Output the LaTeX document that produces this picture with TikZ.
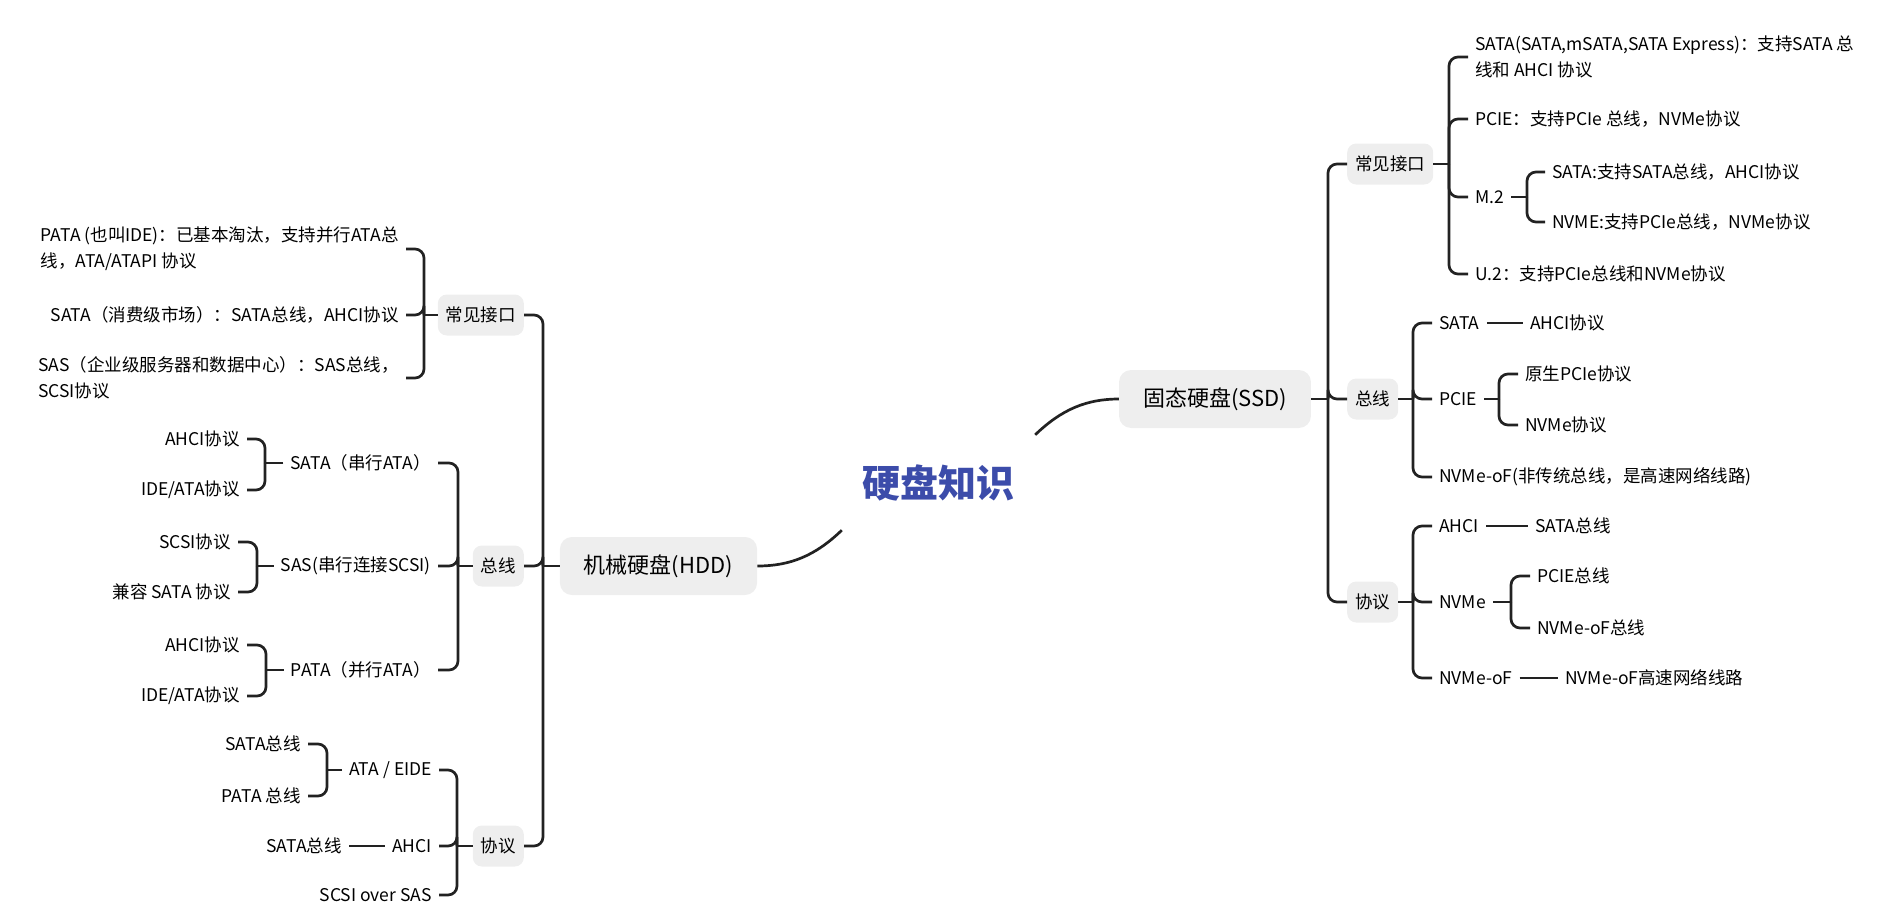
\documentclass[tikz,border=0pt]{standalone}
\usepackage{fontspec}
\setmainfont{Noto Sans CJK SC}
\definecolor{boxgray}{HTML}{EEEEEE}
\definecolor{linedark}{HTML}{222222}
\definecolor{titleblue}{RGB}{60,76,170}

\begin{document}
\begin{tikzpicture}[x=1pt,y=-1pt,
  link/.style={draw=linedark,line width=2.7pt,rounded corners=9pt},
  topic/.style={fill=boxgray,rounded corners=12pt,inner xsep=24pt,minimum height=58pt,font=\fontsize{22}{26}\selectfont},
  sub/.style={fill=boxgray,rounded corners=9pt,inner xsep=8pt,minimum height=41pt,font=\fontsize{17.5}{21}\selectfont},
  leaf/.style={inner xsep=7pt,inner ysep=2pt,align=left,font=\fontsize{17.5}{26}\selectfont}]
  \useasboundingbox (0,0) rectangle (1887,921);

  \node[text=titleblue,minimum width=193pt,minimum height=95pt,font=\fontsize{38}{44}\selectfont\bfseries] (root) at (938.5,482.5) {硬盘知识};
  \node[topic] (hdd) at (658.5,566) {机械硬盘(HDD)};
  \node[topic] (ssd) at (1215,399) {固态硬盘(SSD)};
  \draw[link] (root.south west) .. controls (815,556) and (790,566) .. (hdd.east);
  \draw[link] (root.north east) .. controls (1062,409) and (1087,399) .. (ssd.west);

  \coordinate (jhdd) at (543,566);
  \node[sub,anchor=east] (hif) at (524,315) {常见接口};
  \node[sub,anchor=east] (hbus) at (524,566) {总线};
  \node[sub,anchor=east] (hpro) at (524,846) {协议};
  \draw[link] (hdd.west) -- (jhdd);
  \foreach \n in {hif,hbus,hpro} \draw[link] (jhdd) |- (\n.east);

  \coordinate (jhif) at (424,315);
  \node[leaf,anchor=east] (hifpata) at (406,249) {PATA (也叫IDE)：已基本淘汰，支持并行ATA总\\线，ATA/ATAPI 协议};
  \node[leaf,anchor=east] (hifsata) at (406,315) {SATA（消费级市场）：SATA总线，AHCI协议};
  \node[leaf,anchor=east] (hifsas) at (406,378) {SAS（企业级服务器和数据中心）：SAS总线，\\SCSI协议};
  \draw[link] (hif.west) -- (jhif);
  \foreach \n in {hifpata,hifsata,hifsas} \draw[link] (jhif) |- (\n.east);

  \coordinate (jhbus) at (458,566);
  \node[leaf,anchor=east] (hbsata) at (438,463) {SATA（串行ATA）};
  \node[leaf,anchor=east] (hbsas) at (438,566) {SAS(串行连接SCSI)};
  \node[leaf,anchor=east] (hbpata) at (438,670) {PATA（并行ATA）};
  \draw[link] (hbus.west) -- (jhbus);
  \foreach \n in {hbsata,hbsas,hbpata} \draw[link] (jhbus) |- (\n.east);

  \coordinate (jhbsata) at (265,463);
  \node[leaf,anchor=east] (hbsataa) at (247,439) {AHCI协议};
  \node[leaf,anchor=east] (hbsatab) at (247,490) {IDE/ATA协议};
  \draw[link] (hbsata.west) -- (jhbsata);
  \foreach \n in {hbsataa,hbsatab} \draw[link] (jhbsata) |- (\n.east);

  \coordinate (jhbsas) at (257,566);
  \node[leaf,anchor=east] (hbsasa) at (238,542) {SCSI协议};
  \node[leaf,anchor=east] (hbsasb) at (238,592) {兼容 SATA 协议};
  \draw[link] (hbsas.west) -- (jhbsas);
  \foreach \n in {hbsasa,hbsasb} \draw[link] (jhbsas) |- (\n.east);

  \coordinate (jhbpata) at (266,670);
  \node[leaf,anchor=east] (hbpataa) at (247,645) {AHCI协议};
  \node[leaf,anchor=east] (hbpatab) at (247,696) {IDE/ATA协议};
  \draw[link] (hbpata.west) -- (jhbpata);
  \foreach \n in {hbpataa,hbpatab} \draw[link] (jhbpata) |- (\n.east);

  \coordinate (jhpro) at (457,846);
  \node[leaf,anchor=east] (hpata) at (439,770) {ATA / EIDE};
  \node[leaf,anchor=east] (hpahci) at (439,846) {AHCI};
  \node[leaf,anchor=east] (hpscsi) at (439,895) {SCSI over SAS};
  \draw[link] (hpro.west) -- (jhpro);
  \foreach \n in {hpata,hpahci,hpscsi} \draw[link] (jhpro) |- (\n.east);

  \coordinate (jhpata) at (327,770);
  \node[leaf,anchor=east] (hpataa) at (308,744) {SATA总线};
  \node[leaf,anchor=east] (hpatab) at (308,796) {PATA 总线};
  \draw[link] (hpata.west) -- (jhpata);
  \foreach \n in {hpataa,hpatab} \draw[link] (jhpata) |- (\n.east);

  \node[leaf,anchor=east] (hpahcia) at (349,846) {SATA总线};
  \draw[link] (hpahci.west) -- (hpahcia.east);

  \coordinate (jssd) at (1328,399);
  \node[sub,anchor=west] (sif) at (1347,164) {常见接口};
  \node[sub,anchor=west] (sbus) at (1347,399) {总线};
  \node[sub,anchor=west] (spro) at (1347,602) {协议};
  \draw[link] (ssd.east) -- (jssd);
  \foreach \n in {sif,sbus,spro} \draw[link] (jssd) |- (\n.west);

  \coordinate (jsif) at (1449,164);
  \node[leaf,anchor=west] (sifsata) at (1468,57) {SATA(SATA,mSATA,SATA Express)：支持SATA 总\\线和 AHCI 协议};
  \node[leaf,anchor=west] (sifpcie) at (1468,119) {PCIE：支持PCIe 总线，NVMe协议};
  \node[leaf,anchor=west] (sifm) at (1468,197) {M.2};
  \node[leaf,anchor=west] (sifu) at (1468,274) {U.2：支持PCIe总线和NVMe协议};
  \draw[link] (sif.east) -- (jsif);
  \foreach \n in {sifsata,sifpcie,sifm,sifu} \draw[link] (jsif) |- (\n.west);

  \coordinate (jsifm) at (1527,197);
  \node[leaf,anchor=west] (sifma) at (1545,172) {SATA:支持SATA总线，AHCI协议};
  \node[leaf,anchor=west] (sifmb) at (1545,222) {NVME:支持PCIe总线，NVMe协议};
  \draw[link] (sifm.east) -- (jsifm);
  \foreach \n in {sifma,sifmb} \draw[link] (jsifm) |- (\n.west);

  \coordinate (jsbus) at (1413,399);
  \node[leaf,anchor=west] (sbsata) at (1432,323) {SATA};
  \node[leaf,anchor=west] (sbpcie) at (1432,399) {PCIE};
  \node[leaf,anchor=west] (sbnvof) at (1432,477) {NVMe-oF(非传统总线，是高速网络线路)};
  \draw[link] (sbus.east) -- (jsbus);
  \foreach \n in {sbsata,sbpcie,sbnvof} \draw[link] (jsbus) |- (\n.west);

  \node[leaf,anchor=west] (sbsataa) at (1523,323) {AHCI协议};
  \draw[link] (sbsata.east) -- (sbsataa.west);

  \coordinate (jsbpcie) at (1499,399);
  \node[leaf,anchor=west] (sbpciea) at (1518,374) {原生PCIe协议};
  \node[leaf,anchor=west] (sbpcieb) at (1518,425) {NVMe协议};
  \draw[link] (sbpcie.east) -- (jsbpcie);
  \foreach \n in {sbpciea,sbpcieb} \draw[link] (jsbpcie) |- (\n.west);

  \coordinate (jspro) at (1413,602);
  \node[leaf,anchor=west] (spahci) at (1432,526) {AHCI};
  \node[leaf,anchor=west] (spnvme) at (1432,602) {NVMe};
  \node[leaf,anchor=west] (spnvof) at (1432,678) {NVMe-oF};
  \draw[link] (spro.east) -- (jspro);
  \foreach \n in {spahci,spnvme,spnvof} \draw[link] (jspro) |- (\n.west);

  \node[leaf,anchor=west] (spahcia) at (1528,526) {SATA总线};
  \draw[link] (spahci.east) -- (spahcia.west);

  \coordinate (jspnvme) at (1511,602);
  \node[leaf,anchor=west] (spnvmea) at (1530,576) {PCIE总线};
  \node[leaf,anchor=west] (spnvmeb) at (1530,628) {NVMe-oF总线};
  \draw[link] (spnvme.east) -- (jspnvme);
  \foreach \n in {spnvmea,spnvmeb} \draw[link] (jspnvme) |- (\n.west);

  \node[leaf,anchor=west] (spnvofa) at (1558,678) {NVMe-oF高速网络线路};
  \draw[link] (spnvof.east) -- (spnvofa.west);
\end{tikzpicture}
\end{document}
